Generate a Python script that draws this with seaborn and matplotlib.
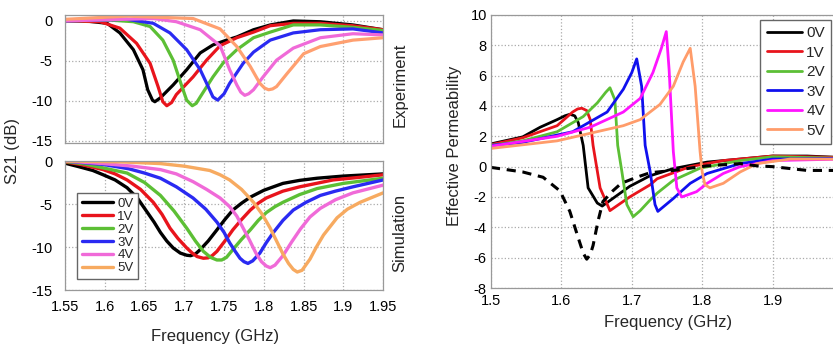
import matplotlib
matplotlib.use("Agg")
import matplotlib.pyplot as plt
import seaborn as sns

# S21 vs frequency at different bias voltages, measured and simulated,
# plus the extracted effective permeability

labels = ["0V", "1V", "2V", "3V", "4V", "5V"]

# --- measured S21 (dB) ---
exp_f = [
    [1.55, 1.58, 1.603, 1.619, 1.636, 1.648, 1.654, 1.660, 1.663, 1.670, 1.686, 1.703, 1.720, 1.736, 1.753, 1.766, 1.787, 1.808, 1.837, 1.871, 1.912, 1.95],
    [1.55, 1.594, 1.619, 1.640, 1.657, 1.667, 1.673, 1.678, 1.684, 1.690, 1.711, 1.728, 1.745, 1.766, 1.787, 1.808, 1.837, 1.871, 1.912, 1.95],
    [1.55, 1.607, 1.636, 1.657, 1.673, 1.686, 1.697, 1.703, 1.710, 1.715, 1.720, 1.736, 1.750, 1.766, 1.787, 1.808, 1.837, 1.871, 1.912, 1.95],
    [1.55, 1.628, 1.661, 1.682, 1.703, 1.720, 1.730, 1.736, 1.742, 1.750, 1.757, 1.774, 1.787, 1.808, 1.837, 1.871, 1.912, 1.95],
    [1.55, 1.661, 1.690, 1.720, 1.745, 1.757, 1.766, 1.771, 1.776, 1.781, 1.787, 1.799, 1.816, 1.837, 1.871, 1.912, 1.95],
    [1.55, 1.628, 1.711, 1.745, 1.766, 1.783, 1.795, 1.801, 1.806, 1.811, 1.816, 1.829, 1.850, 1.871, 1.912, 1.95],
]
exp_s21 = [
    [0.0, -0.05, -0.3, -1.5, -3.6, -6.1, -8.6, -9.9, -10.1, -9.6, -8.0, -6.1, -4.0, -3.0, -2.4, -2.0, -1.1, -0.5, 0.0, -0.1, -0.5, -1.1],
    [0.0, -0.1, -0.9, -2.8, -5.3, -8.2, -10.1, -10.6, -10.2, -9.2, -7.0, -4.9, -3.1, -2.1, -1.4, -0.6, -0.3, -0.3, -0.6, -1.1],
    [0.0, 0.1, -0.1, -0.7, -2.4, -4.9, -8.2, -9.9, -10.6, -10.3, -9.5, -7.0, -5.1, -3.6, -2.1, -1.4, -0.5, -0.5, -0.8, -1.2],
    [0.0, 0.2, -0.3, -1.5, -3.6, -6.1, -8.2, -9.5, -9.9, -9.1, -7.8, -5.3, -3.9, -2.4, -1.5, -1.1, -1.0, -1.5],
    [0.0, 0.3, -0.1, -1.1, -3.1, -6.1, -8.0, -8.9, -9.3, -9.1, -8.6, -7.0, -4.9, -3.4, -2.1, -1.6, -1.75],
    [0.2, 0.6, 0.3, -1.0, -3.2, -5.7, -7.8, -8.4, -8.6, -8.5, -8.2, -6.6, -4.1, -3.2, -2.4, -2.1],
]

# --- simulated S21 (dB) ---
sim_f = [
    [1.55, 1.569, 1.585, 1.598, 1.613, 1.628, 1.641, 1.653, 1.662, 1.670, 1.678, 1.686, 1.695, 1.703, 1.708, 1.714, 1.720, 1.730, 1.741, 1.751, 1.761, 1.772, 1.783, 1.800, 1.824, 1.845, 1.867, 1.90, 1.95],
    [1.55, 1.57, 1.598, 1.613, 1.628, 1.645, 1.661, 1.672, 1.682, 1.692, 1.703, 1.710, 1.716, 1.724, 1.730, 1.735, 1.741, 1.751, 1.761, 1.772, 1.783, 1.793, 1.803, 1.824, 1.845, 1.887, 1.92, 1.95],
    [1.55, 1.575, 1.598, 1.628, 1.65, 1.67, 1.687, 1.703, 1.714, 1.724, 1.733, 1.741, 1.747, 1.753, 1.761, 1.772, 1.783, 1.793, 1.803, 1.814, 1.824, 1.845, 1.867, 1.90, 1.95],
    [1.55, 1.598, 1.63, 1.65, 1.67, 1.69, 1.711, 1.727, 1.741, 1.75, 1.757, 1.764, 1.77, 1.775, 1.78, 1.786, 1.795, 1.803, 1.812, 1.824, 1.837, 1.853, 1.871, 1.89, 1.912, 1.95],
    [1.55, 1.598, 1.635, 1.67, 1.69, 1.711, 1.728, 1.745, 1.757, 1.766, 1.774, 1.782, 1.79, 1.797, 1.803, 1.808, 1.814, 1.824, 1.835, 1.846, 1.858, 1.871, 1.89, 1.912, 1.95],
    [1.55, 1.62, 1.67, 1.70, 1.732, 1.745, 1.757, 1.772, 1.787, 1.798, 1.808, 1.816, 1.824, 1.831, 1.837, 1.842, 1.848, 1.858, 1.866, 1.875, 1.892, 1.905, 1.921, 1.95],
]
sim_s21 = [
    [-0.25, -0.7, -1.1, -1.6, -2.2, -3.1, -4.3, -5.9, -7.1, -8.3, -9.3, -10.1, -10.7, -10.95, -11.0, -10.8, -10.3, -9.3, -8.0, -6.8, -5.7, -4.9, -4.2, -3.4, -2.6, -2.25, -2.0, -1.75, -1.5],
    [-0.1, -0.4, -1.0, -1.5, -2.2, -3.3, -4.8, -6.2, -7.8, -9.0, -10.1, -10.7, -11.1, -11.3, -11.25, -11.0, -10.5, -9.3, -8.0, -6.8, -5.7, -4.9, -4.3, -3.5, -3.0, -2.2, -1.9, -1.6],
    [-0.05, -0.35, -0.8, -1.4, -2.5, -4.0, -5.8, -7.8, -9.3, -10.5, -11.2, -11.5, -11.5, -11.2, -10.3, -9.1, -8.0, -6.9, -6.0, -5.3, -4.8, -3.9, -3.2, -2.6, -2.0],
    [0.0, -0.4, -0.9, -1.4, -2.0, -3.0, -4.3, -5.6, -7.1, -8.3, -9.5, -10.5, -11.3, -11.7, -11.9, -11.6, -10.7, -9.5, -8.3, -6.9, -5.7, -4.8, -4.0, -3.5, -3.0, -2.2],
    [0.0, -0.3, -0.6, -1.0, -1.5, -2.4, -3.3, -4.3, -5.3, -6.4, -7.8, -9.2, -10.7, -11.7, -12.2, -12.4, -12.1, -11.0, -9.4, -7.9, -6.5, -5.5, -4.5, -3.7, -2.8],
    [0.0, -0.1, -0.3, -0.6, -1.1, -1.6, -2.2, -3.3, -4.8, -6.2, -7.8, -9.3, -10.8, -11.9, -12.6, -12.9, -12.7, -11.4, -10.0, -8.6, -6.6, -5.6, -4.8, -3.7],
]

# --- effective permeability ---
mu_f = [
    [1.50, 1.545, 1.57, 1.594, 1.605, 1.612, 1.619, 1.624, 1.631, 1.638, 1.651, 1.658, 1.673, 1.697, 1.726, 1.759, 1.807, 1.854, 1.90, 1.949, 2.0],
    [1.50, 1.545, 1.594, 1.616, 1.623, 1.629, 1.636, 1.641, 1.645, 1.655, 1.669, 1.697, 1.726, 1.736, 1.783, 1.83, 1.90, 2.0],
    [1.50, 1.545, 1.594, 1.631, 1.651, 1.663, 1.669, 1.676, 1.68, 1.686, 1.693, 1.702, 1.712, 1.726, 1.736, 1.759, 1.797, 1.854, 1.90, 2.0],
    [1.50, 1.545, 1.616, 1.665, 1.688, 1.700, 1.707, 1.714, 1.719, 1.726, 1.733, 1.737, 1.759, 1.783, 1.807, 1.854, 1.90, 2.0],
    [1.50, 1.594, 1.641, 1.688, 1.712, 1.73, 1.742, 1.749, 1.753, 1.759, 1.764, 1.771, 1.792, 1.807, 1.83, 1.854, 1.90, 2.0],
    [1.50, 1.594, 1.641, 1.688, 1.712, 1.74, 1.759, 1.773, 1.783, 1.79, 1.797, 1.80, 1.804, 1.811, 1.83, 1.854, 1.878, 1.925, 2.0],
]
mu_val = [
    [1.5, 1.96, 2.6, 3.1, 3.35, 3.45, 3.35, 2.9, 1.4, -1.4, -2.4, -2.6, -2.1, -1.3, -0.6, -0.13, 0.3, 0.5, 0.7, 0.7, 0.6],
    [1.45, 1.9, 2.7, 3.6, 3.8, 3.85, 3.7, 3.1, 1.4, -1.4, -2.9, -2.0, -1.2, -0.8, 0.0, 0.4, 0.7, 0.6],
    [1.4, 1.7, 2.3, 3.3, 4.2, 4.9, 5.2, 4.4, 1.4, -0.35, -2.5, -3.3, -2.9, -2.2, -1.75, -0.9, -0.1, 0.4, 0.65, 0.55],
    [1.4, 1.6, 2.3, 3.6, 5.1, 6.2, 7.1, 5.3, 1.4, -0.3, -2.5, -2.95, -2.1, -1.1, -0.45, 0.2, 0.5, 0.55],
    [1.35, 2.0, 2.6, 3.6, 4.5, 6.2, 7.8, 8.9, 6.4, 1.0, -1.4, -2.0, -1.65, -1.1, -0.45, 0.0, 0.4, 0.5],
    [1.2, 1.7, 2.2, 2.7, 3.1, 4.1, 5.3, 6.9, 7.8, 5.3, 1.0, -0.35, -1.2, -1.4, -1.1, -0.35, 0.2, 0.5, 0.5],
]
dash_f = [1.50, 1.545, 1.574, 1.598, 1.612, 1.624, 1.631, 1.636, 1.641, 1.645, 1.652, 1.659, 1.673, 1.685, 1.707, 1.726, 1.759, 1.807, 1.854, 1.878, 1.90, 1.949, 2.0]
dash_val = [-0.05, -0.35, -0.7, -1.6, -2.95, -4.7, -5.7, -6.1, -5.8, -5.2, -3.6, -2.3, -1.6, -1.1, -0.7, -0.4, -0.25, 0.05, 0.2, 0.05, 0.0, -0.25, -0.25]

left_colors = ["#000000", "#e8141c", "#5cbf35", "#2a2af2", "#f06ad8", "#ffa070"]
sim_colors = ["#000000", "#e8141c", "#5cbf35", "#2a2af2", "#f06ad8", "#f7aa60"]
right_colors = ["#000000", "#e8141c", "#5cbf35", "#1010ee", "#ff14ff", "#ff9c6a"]

sns.set_style("white")
plt.rcParams["font.family"] = ["Liberation Sans", "DejaVu Sans"]
plt.rcParams["axes.unicode_minus"] = False

fig = plt.figure(figsize=(8.33, 3.47), dpi=100)
ax1 = fig.add_axes([0.078, 0.588, 0.382, 0.369])
ax2 = fig.add_axes([0.078, 0.164, 0.382, 0.372])
ax3 = fig.add_axes([0.5894, 0.170, 0.4226, 0.787])

for i in range(6):
    sns.lineplot(x=exp_f[i], y=exp_s21[i], ax=ax1, color=left_colors[i], lw=2.3)
    sns.lineplot(x=sim_f[i], y=sim_s21[i], ax=ax2, color=sim_colors[i], lw=2.4, label=labels[i])
    sns.lineplot(x=mu_f[i], y=mu_val[i], ax=ax3, color=right_colors[i], lw=2.0, label=labels[i])
sns.lineplot(x=dash_f, y=dash_val, ax=ax3, color="black", lw=2.2, linestyle=(0, (3, 2.2)))

def style(ax):
    ax.grid(True, linestyle=":", color="#aaaaaa", lw=0.9)
    for s in ax.spines.values():
        s.set_color("#999999")
        s.set_linewidth(0.9)
    ax.tick_params(length=0, labelsize=10.5, colors="black")

for ax in (ax1, ax2):
    style(ax)
    ax.set_xlim(1.55, 1.95)
    ax.set_xticks([1.55, 1.6, 1.65, 1.7, 1.75, 1.8, 1.85, 1.9, 1.95])
    ax.set_yticks([0, -5, -10, -15])
    ax.set_xlabel("")
    ax.set_ylabel("")
    ax.tick_params(axis="y", pad=9)
ax1.set_ylim(-15.25, 0.75)
ax1.set_xticklabels([])
ax2.set_ylim(-15, 0)
ax2.set_xticklabels(["1.55", "1.6", "1.65", "1.7", "1.75", "1.8", "1.85", "1.9", "1.95"])
ax2.tick_params(axis="x", pad=7)

style(ax3)
ax3.set_xlim(1.5, 2.0)
ax3.set_ylim(-8, 10)
ax3.set_xticks([1.5, 1.6, 1.7, 1.8, 1.9, 2.0])
ax3.set_xticklabels(["1.5", "1.6", "1.7", "1.8", "1.9", "2"])
ax3.set_yticks(range(-8, 11, 2))
ax3.tick_params(axis="y", pad=3)
ax3.tick_params(axis="x", pad=4)
ax3.set_xlabel("")
ax3.set_ylabel("")

ax2.legend(loc="upper left", bbox_to_anchor=(77 / 833, 1 - 193 / 347), bbox_transform=fig.transFigure,
           borderaxespad=0, fontsize=9.5, handlelength=2.4, labelspacing=0.05, borderpad=0.35, handletextpad=0.3,
           frameon=True, fancybox=False, edgecolor="#666666", framealpha=1)
ax3.legend(loc="upper right", bbox_to_anchor=(831 / 833, 1 - 20 / 347), bbox_transform=fig.transFigure,
           borderaxespad=0, fontsize=11, handlelength=2.3, labelspacing=0.36, borderpad=0.4, handletextpad=0.3,
           frameon=True, fancybox=False, edgecolor="#666666", framealpha=1)

fig.text(13 / 833, 1 - 151 / 347, "S21 (dB)", rotation=90, ha="center", va="center", fontsize=12)
fig.text(400 / 833, 1 - 85 / 347, "Experiment", rotation=90, ha="center", va="center", fontsize=12)
fig.text(400 / 833, 1 - 233 / 347, "Simulation", rotation=90, ha="center", va="center", fontsize=12)
fig.text(215 / 833, 1 - 337 / 347, "Frequency (GHz)", ha="center", va="center", fontsize=12)
fig.text(668 / 833, 1 - 323 / 347, "Frequency (GHz)", ha="center", va="center", fontsize=12)
fig.text(455 / 833, 1 - 146 / 347, "Effective Permeability", rotation=90, ha="center", va="center", fontsize=12)

fig.savefig("out.png", dpi=100)
